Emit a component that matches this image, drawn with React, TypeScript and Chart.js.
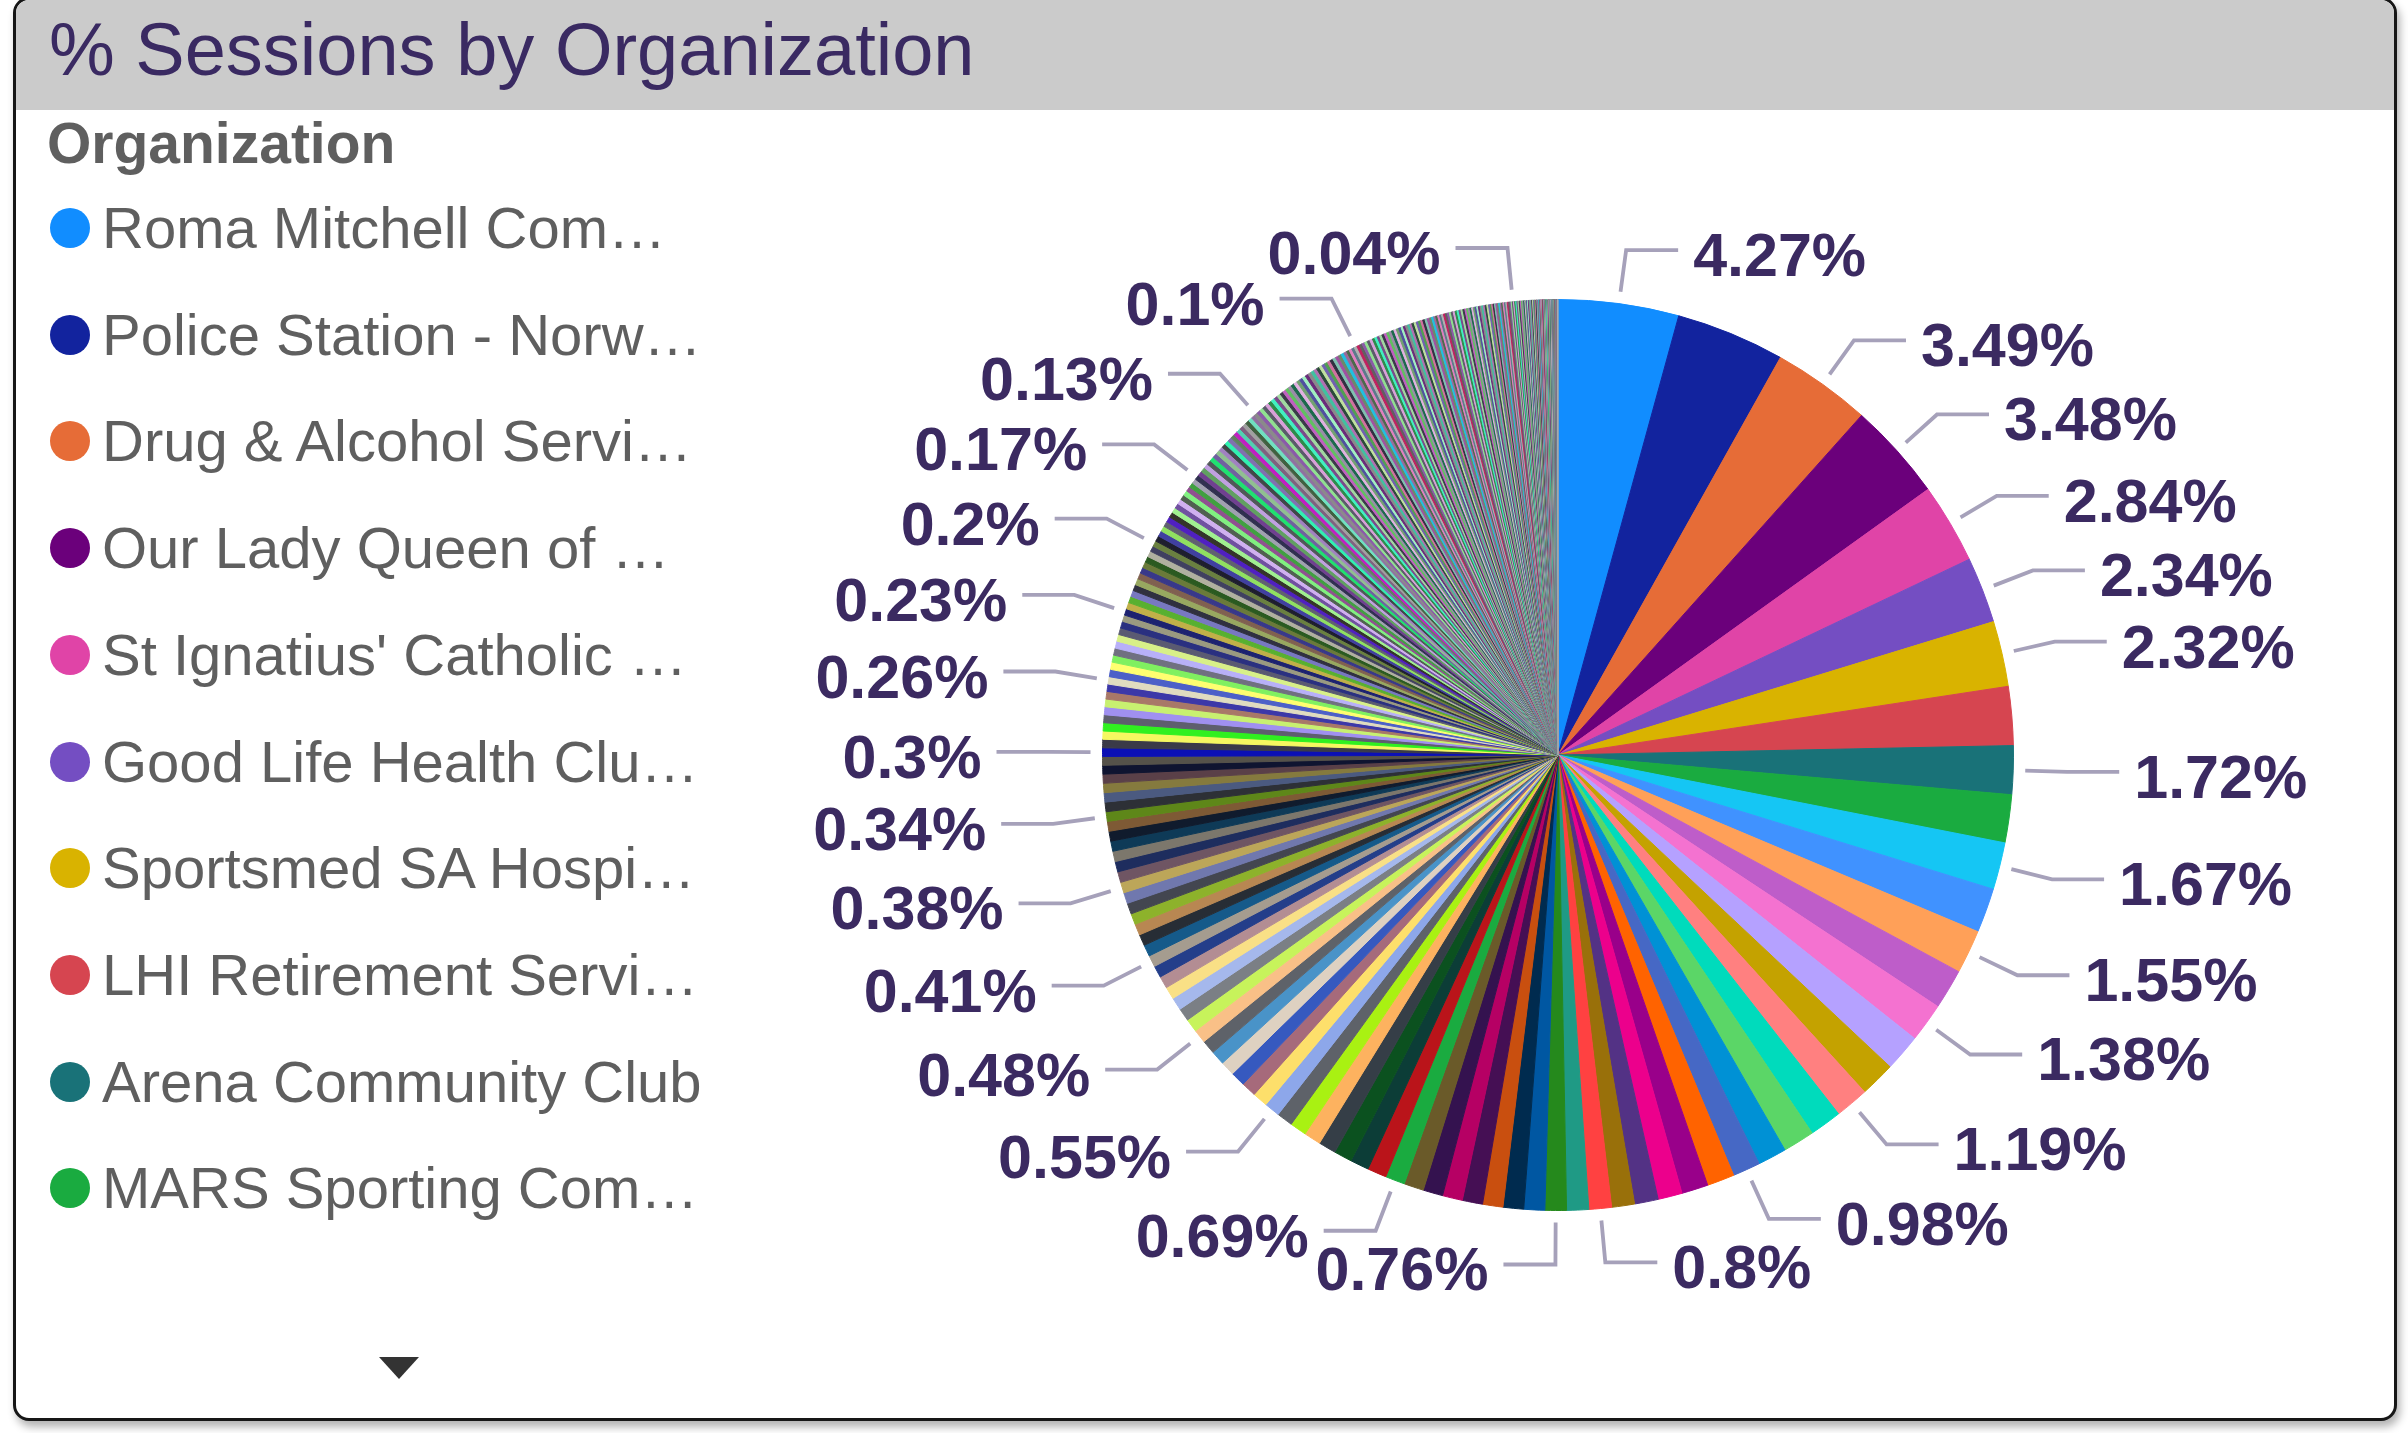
import React, { useEffect, useRef } from "react";
import { Chart, registerables } from "chart.js";

Chart.register(...registerables);

const FONT = '"Liberation Sans", Arial, Helvetica, sans-serif';

const chartTitle = "% Sessions by Organization";
const legendTitle = "Organization";
const legendNames = [
  "Roma Mitchell Com…",
  "Police Station - Norw…",
  "Drug & Alcohol Servi…",
  "Our Lady Queen of …",
  "St Ignatius' Catholic …",
  "Good Life Health Clu…",
  "Sportsmed SA Hospi…",
  "LHI Retirement Servi…",
  "Arena Community Club",
  "MARS Sporting Com…",
];

// % of sessions, sorted descending (clockwise from 12 o'clock)
const leadValues = [
  4.27, 3.85, 3.49, 3.48, 2.84, 2.34, 2.32, 2.08, 1.72, 1.7, 1.67, 1.58, 1.55, 1.42, 1.38,
  1.31, 1.25, 1.19, 1.14, 1.12, 1.02, 0.98, 0.97, 0.94, 0.86, 0.84, 0.81, 0.8, 0.78, 0.76,
];
const leadLabeled = [0, 2, 3, 4, 5, 6, 8, 10, 12, 14, 17, 21, 27, 29];

// bands of smaller slices; the last slice of each band carries a data label
const band069 = [0.74, 0.73, 0.72, 0.72, 0.71, 0.7, 0.7, 0.69];
const band055 = [0.68, 0.66, 0.64, 0.62, 0.6, 0.59, 0.57, 0.55];
const band048 = [0.54, 0.53, 0.52, 0.51, 0.5, 0.49, 0.48];
const band041 = [0.47, 0.46, 0.45, 0.44, 0.43, 0.42, 0.41];
const band038 = [0.41, 0.4, 0.4, 0.39, 0.39, 0.39, 0.38];
const band034 = [0.38, 0.37, 0.37, 0.36, 0.35, 0.35, 0.34];
const band030 = [0.34, 0.33, 0.33, 0.32, 0.31, 0.31, 0.3];
const band026 = [0.3, 0.29, 0.29, 0.28, 0.28, 0.27, 0.27, 0.26, 0.26];
const band023 = [0.26, 0.26, 0.25, 0.25, 0.25, 0.24, 0.24, 0.24, 0.23, 0.23];
const band020 = [0.23, 0.23, 0.22, 0.22, 0.22, 0.22, 0.21, 0.21, 0.21, 0.21, 0.2, 0.2];
const band017 = [
  0.2, 0.2, 0.19, 0.19, 0.19, 0.19, 0.18, 0.18, 0.18, 0.18, 0.18, 0.17, 0.17, 0.17, 0.17,
];
const band013 = [
  0.17, 0.17, 0.16, 0.16, 0.16, 0.16, 0.16, 0.15, 0.15, 0.15, 0.15, 0.15, 0.15, 0.14, 0.14,
  0.14, 0.14, 0.14, 0.13, 0.13,
];
const band010 = [
  0.13, 0.13, 0.13, 0.13, 0.13, 0.13, 0.13, 0.13,
  0.12, 0.12, 0.12, 0.12, 0.12, 0.12, 0.12, 0.12, 0.12, 0.12, 0.12, 0.12,
  0.11, 0.11, 0.11, 0.11, 0.11, 0.11, 0.11, 0.11, 0.11, 0.11, 0.11, 0.11,
  0.1, 0.1, 0.1, 0.1,
];
const band004 = [
  0.1, 0.1, 0.1, 0.1, 0.1, 0.1,
  0.09, 0.09, 0.09, 0.09, 0.09, 0.09, 0.09, 0.09, 0.09, 0.09, 0.09, 0.09,
  0.08, 0.08, 0.08, 0.08, 0.08, 0.08, 0.08, 0.08, 0.08, 0.08, 0.08, 0.08, 0.08, 0.08, 0.08,
  0.07, 0.07, 0.07, 0.07, 0.07, 0.07, 0.07, 0.07, 0.07, 0.07, 0.07, 0.07, 0.07, 0.07, 0.07, 0.07,
  0.06, 0.06, 0.06, 0.06, 0.06, 0.06, 0.06, 0.06, 0.06, 0.06, 0.06, 0.06, 0.06, 0.06, 0.06,
  0.05, 0.05, 0.05, 0.05, 0.05, 0.05, 0.05, 0.05, 0.05, 0.05, 0.05, 0.05, 0.05, 0.05,
  0.04, 0.04, 0.04,
];
const tailValues = [
  0.04, 0.04, 0.04, 0.04, 0.04, 0.04, 0.04, 0.04, 0.04, 0.04,
  0.03, 0.03, 0.03, 0.03, 0.03, 0.03, 0.03, 0.03, 0.03, 0.03, 0.03, 0.03, 0.03, 0.03, 0.03,
  0.02, 0.02, 0.02, 0.02, 0.02, 0.02, 0.02, 0.02, 0.02, 0.02, 0.02, 0.02, 0.02, 0.02, 0.02,
  0.02, 0.02, 0.02, 0.02, 0.02, 0.02, 0.02, 0.02, 0.02, 0.02,
  0.01, 0.01, 0.01, 0.01, 0.01, 0.01, 0.01, 0.01, 0.01, 0.01, 0.01, 0.01, 0.01, 0.01, 0.01,
  0.01, 0.01, 0.01, 0.01, 0.01, 0.01,
];

const labeledBands = [
  band069, band055, band048, band041, band038, band034, band030,
  band026, band023, band020, band017, band013, band010, band004,
];

const values: number[] = [...leadValues, ...labeledBands.flat(), ...tailValues];

const labeledIdx: number[] = (() => {
  const out = [...leadLabeled];
  let pos = leadValues.length;
  for (const b of labeledBands) {
    pos += b.length;
    out.push(pos - 1);
  }
  return out;
})();

// colours (Power BI style palette + generated extras)
const baseColors = [
  "#118DFF", "#12239E", "#E66C37", "#6B007B", "#E044A7", "#744EC2", "#D9B300", "#D64550",
  "#197278", "#1AAB40", "#15C6F4", "#4092FF", "#FFA058", "#BE5DC9", "#F472D0", "#B5A1FF",
  "#C4A200", "#FF8080", "#00DBBC", "#5BD667", "#0091D5", "#4668C5", "#FF6300", "#99008A",
  "#EC008C", "#533285", "#99700A", "#FF4141", "#1F9A85", "#25891C", "#0057A2", "#002B4F",
  "#C94F0F", "#450F54", "#B60064", "#34124F", "#6A5A29", "#1AAB40", "#BA141A", "#0C3D37",
  "#0B511F", "#353E47", "#FDB25F", "#A9F112", "#5E6269", "#8DA7EA", "#FDDF6B", "#A66A7B",
  "#3659BF", "#DED1C1", "#4993C8", "#5E6269", "#F9C087", "#C7F35B", "#7B7F85", "#A5B8EC",
  "#F9E086", "#B38D93", "#243E8A", "#A59C8F", "#155A8A", "#272D35", "#B88752", "#8DB22B",
  "#434650", "#7078AE", "#BCA659", "#6F5563", "#1E2D5E", "#7C776C", "#0E3A57", "#101B2D",
  "#7E5A35", "#5E8719", "#2D3036", "#4B5A80", "#857A3E", "#5A4048", "#0F1430", "#55524A",
  "#0B10B5",
];
const tailColorsA = [
  "#3A3A48", "#F5F860", "#30F020", "#5E5E6E", "#A090F0", "#C8F070", "#A87868", "#3C38A8",
  "#E0DCC0", "#4C60C8", "#FFFF70", "#80F060", "#707080", "#B8B0F8", "#D8F088", "#5A5A72",
  "#2A3080", "#9A9A80", "#1C2270", "#C0B048", "#58B030", "#7878C0", "#303040", "#98A860",
  "#806050", "#38388A", "#6A7A3A", "#2A5A20", "#B0B0A0", "#404060", "#6A8040", "#1E1E2E",
  "#4040A0", "#90E060", "#606070", "#5020C0", "#34342A", "#A0F090", "#7050A0", "#D0B0F0",
  "#506050", "#80F080", "#905090", "#40A040", "#A0A0B0", "#303050", "#704090", "#60A060",
  "#C0A0E0", "#505858", "#20E070", "#7060A0", "#90C090", "#A080C0", "#404848", "#30F0B0",
  "#8070B0", "#608060", "#C020C0", "#50D0B0", "#806080", "#A0A0A0", "#406040", "#70E0C0",
  "#9070A0", "#8A8A8A",
];
const tailColorsB = [
  "#8A5AA8", "#90E090", "#5A5A6A", "#D8A0D8", "#2E8A4A", "#40F0C0", "#7A4A8A", "#A0D8A0",
  "#3A3A48", "#C060C0", "#60C060", "#9A8AA8", "#1A6A4A", "#E0B0E0", "#70A070", "#5050A0",
  "#A0F0C0", "#6A2A7A", "#8A8A8A", "#40C0A0", "#B070B0", "#2A4A3A", "#C0E0A0", "#7060B0",
  "#50A050", "#D070A0", "#303040", "#80C0B0", "#A050A0", "#6A8A6A", "#20C0E0", "#9A6A9A",
  "#4A6A4A", "#E080C0", "#5A7A8A", "#B0B0B0", "#C02060", "#606060",
];

function sliceColor(i: number): string {
  if (i < baseColors.length) return baseColors[i];
  const j = i - baseColors.length;
  if (j < tailColorsA.length) return tailColorsA[j];
  return tailColorsB[(j - tailColorsA.length) % tailColorsB.length];
}

function fmt(v: number): string {
  return `${parseFloat(v.toFixed(2))}%`;
}

const leaderLabels = {
  id: "leaderLabels",
  afterDatasetsDraw(chart: any) {
    const ctx: CanvasRenderingContext2D = chart.ctx;
    const meta = chart.getDatasetMeta(0);
    ctx.save();
    ctx.font = `bold 61px ${FONT}`;
    ctx.fillStyle = "#3B2A61";
    ctx.strokeStyle = "#A6A1BA";
    ctx.lineWidth = 3.8;
    ctx.lineJoin = "miter";
    ctx.textBaseline = "alphabetic";
    for (const i of labeledIdx) {
      const arc = meta.data[i];
      if (!arc) continue;
      const { x, y, startAngle, endAngle, outerRadius } = arc.getProps(
        ["x", "y", "startAngle", "endAngle", "outerRadius"],
        true
      );
      const a = (startAngle + endAngle) / 2;
      const c = Math.cos(a);
      const s = Math.sin(a);
      const x0 = x + (outerRadius + 12) * c;
      const y0 = y + (outerRadius + 12) * s;
      const x1 = x + (outerRadius + 54) * c;
      const y1 = y + (outerRadius + 54) * s;
      const dir = c >= 0 ? 1 : -1;
      const x2 = x1 + dir * 52;
      ctx.beginPath();
      ctx.moveTo(x0, y0);
      ctx.lineTo(x1, y1);
      ctx.lineTo(x2, y1);
      ctx.stroke();
      ctx.textAlign = dir > 0 ? "left" : "right";
      ctx.fillText(fmt(values[i]), x2 + dir * 15, y1 + 26);
    }
    ctx.restore();
  },
};

function PieChart() {
  const ref = useRef<HTMLCanvasElement | null>(null);
  useEffect(() => {
    if (!ref.current) return;
    const colors = values.map((_, i) => sliceColor(i));
    const chart = new Chart(ref.current, {
      type: "pie",
      data: {
        labels: values.map((_, i) => legendNames[i] ?? ""),
        datasets: [
          {
            data: values,
            backgroundColor: colors,
            borderColor: colors,
            borderWidth: 1,
            borderJoinStyle: "round",
            hoverOffset: 0,
            offset: 0,
            spacing: 0,
          },
        ],
      },
      options: {
        responsive: false,
        maintainAspectRatio: false,
        devicePixelRatio: 1,
        animation: false,
        events: [],
        layout: { padding: { top: 109, bottom: 109, left: 0, right: 0 } },
        plugins: {
          legend: { display: false },
          tooltip: { enabled: false },
          title: { display: false },
        },
      },
      plugins: [leaderLabels],
    } as any);
    return () => chart.destroy();
  }, []);
  return (
    <canvas
      ref={ref}
      width={1560}
      height={1130}
      style={{ position: "absolute", left: 778, top: 190, width: 1560, height: 1130 }}
    />
  );
}

export default function App() {
  return (
    <div
      style={{
        position: "fixed",
        left: 0,
        top: 0,
        width: 2408,
        height: 1433,
        background: "#ffffff",
        overflow: "hidden",
        fontFamily: FONT,
      }}
    >
      <div
        style={{
          position: "absolute",
          left: 13,
          top: -3,
          width: 2384,
          height: 1424,
          border: "3px solid #161616",
          borderRadius: 16,
          boxSizing: "border-box",
          overflow: "hidden",
          background: "#ffffff",
          boxShadow: "3px 6px 8px rgba(0,0,0,0.3)",
        }}
      >
        <div
          style={{
            position: "absolute",
            left: 0,
            top: 0,
            right: 0,
            height: 110,
            background: "#CBCBCB",
          }}
        />
      </div>
      <div
        style={{
          position: "absolute",
          left: 49,
          top: 13,
          fontSize: 74,
          lineHeight: "74px",
          color: "#3A2A62",
          whiteSpace: "nowrap",
        }}
      >
        {chartTitle}
      </div>
      <div
        style={{
          position: "absolute",
          left: 47,
          top: 115,
          fontSize: 57,
          lineHeight: "57px",
          fontWeight: "bold",
          color: "#5F5F5F",
          whiteSpace: "nowrap",
        }}
      >
        {legendTitle}
      </div>
      {legendNames.map((name, i) => {
        const baseline = 248 + i * 106.7;
        return (
          <React.Fragment key={name}>
            <div
              style={{
                position: "absolute",
                left: 50,
                top: baseline - 20 - 20,
                width: 40,
                height: 40,
                borderRadius: "50%",
                background: sliceColor(i),
              }}
            />
            <div
              style={{
                position: "absolute",
                left: 102,
                top: baseline - 49,
                fontSize: 58,
                lineHeight: "58px",
                color: "#5F5F5F",
                whiteSpace: "nowrap",
              }}
            >
              {name}
            </div>
          </React.Fragment>
        );
      })}
      <svg
        width={40}
        height={22}
        style={{ position: "absolute", left: 379, top: 1357 }}
      >
        <polygon points="0,0 40,0 20,22" fill="#333333" />
      </svg>
      <PieChart />
    </div>
  );
}
